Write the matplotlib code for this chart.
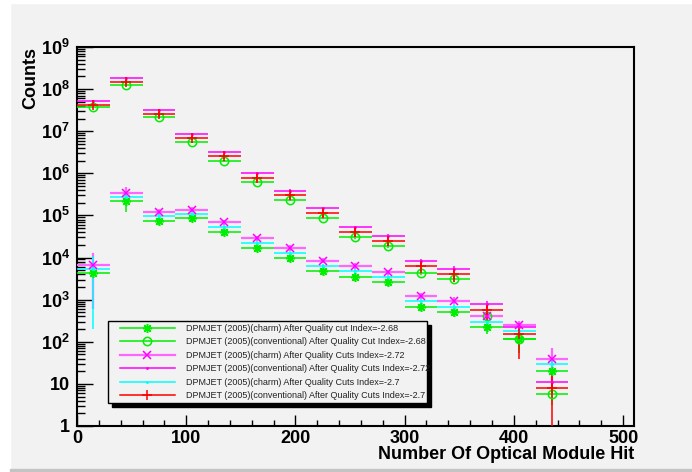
import math
import matplotlib
matplotlib.use("Agg")
import matplotlib.pyplot as plt
from matplotlib.lines import Line2D
from matplotlib.patches import Rectangle
from matplotlib.legend_handler import HandlerLine2D
from matplotlib.ticker import LogLocator, FuncFormatter, MultipleLocator, NullFormatter

plt.rcParams["font.family"] = ["Liberation Sans", "DejaVu Sans"]
plt.rcParams["mathtext.fontset"] = "custom"
plt.rcParams["mathtext.bf"] = "Liberation Sans:bold"
plt.rcParams["mathtext.rm"] = "Liberation Sans"

# ── Data ─────────────────────────────────────────────────────────────────────
bin_centers = [15, 45, 75, 105, 135, 165, 195, 225, 255, 285, 315, 345, 375, 405, 435]
bin_half = [15] * 15

charm_green = [4.2e3, 2.2e5, 7.5e4, 8.6e4, 4.0e4, 1.66e4, 9.6e3, 4.7e3, 3.5e3, 2.6e3,
               6.8e2, 5.0e2, 2.2e2, 1.17e2, 20.6]
charm_green_err = [1.5e3, 1.0e5, 1.5e4, 1.6e4, 7e3, 3e3, 1.8e3, 9e2, 7e2, 5e2,
                   1.5e2, 1.2e2, 7e1, 5e1, 7]

conv_green = [3.7e7, 1.26e8, 2.2e7, 5.6e6, 2.0e6, 6.2e5, 2.3e5, 8.9e4, 3.0e4, 1.9e4,
              4.4e3, 3.1e3, 4.2e2, 1.15e2, 5.6]
conv_green_err = [2e6, 5e6, 1e6, 3e5, 1e5, 4e4, 1.5e4, 6e3, 2.5e3, 1.8e3,
                  5e2, 4e2, 7e1, 6e1, 2.5]

charm_mag = [6.6e3, 3.4e5, 1.2e5, 1.38e5, 6.9e4, 2.9e4, 1.7e4, 8.5e3, 6.3e3, 4.5e3,
             1.24e3, 9.5e2, 4.2e2, 2.5e2, 40]
charm_mag_err = [6e3, 1.4e5, 2e4, 2e4, 1e4, 4e3, 2.5e3, 1.2e3, 1e3, 7e2,
                 2.2e2, 1.8e2, 9e1, 6e1, 30]

conv_mag = [5.25e7, 1.81e8, 3.25e7, 8.8e6, 3.17e6, 1.0e6, 3.9e5, 1.5e5, 5.2e4, 3.3e4,
            8.1e3, 5.4e3, 7.9e2, 2.2e2, 11]
conv_mag_err = [3e6, 1e7, 2e6, 5e5, 2e5, 7e4, 3e4, 1.2e4, 5e3, 3.5e3,
                1.2e3, 9e2, 1.5e2, 6e1, 4]

charm_cyan = [5.4e3, 2.7e5, 9.6e4, 1.1e5, 5.2e4, 2.2e4, 1.27e4, 6.4e3, 4.7e3, 3.5e3,
              9.2e2, 6.8e2, 2.95e2, 1.8e2, 29]
charm_cyan_err = [5.2e3, 8e4, 1.2e4, 1.3e4, 6e3, 2.5e3, 1.5e3, 8e2, 6e2, 4.5e2,
                  1.4e2, 1.1e2, 5e1, 3.5e1, 8]

conv_red = [4.3e7, 1.5e8, 2.6e7, 7.0e6, 2.55e6, 7.8e5, 3.0e5, 1.17e5, 4.0e4, 2.5e4,
            6.2e3, 4.1e3, 5.6e2, 1.5e2, 8.1]
conv_red_err = [4e6, 1.5e7, 3e6, 8e5, 3e5, 1.2e5, 5e4, 2.5e4, 1e4, 6e3,
                2e3, 1.4e3, 2.5e2, 1.1e2, 9]

labels = [
    "DPMJET (2005)(charm) After Quality cut Index=-2.68",
    "DPMJET (2005)(conventional) After Quality Cut Index=-2.68",
    "DPMJET (2005)(charm) After Quality Cuts Index=-2.72",
    "DPMJET (2005)(conventional) After Quality Cuts Index=-2.72",
    "DPMJET (2005)(charm) After Quality Cuts Index=-2.7",
    "DPMJET (2005)(conventional) After Quality Cuts Index=-2.7",
]

# ── Styles ───────────────────────────────────────────────────────────────────
GREEN = "#00ee00"
MAG = "#ff00ff"
MAG_L = "#ff66ff"
CYAN = "#00ffff"
RED = "#ff0000"
BG = "#f2f2f2"

series = [
    # values, errors, color, marker, ms, mfc, lw
    (charm_green, charm_green_err, GREEN, (8, 2, 0), 6.5, GREEN, 1.1),
    (conv_green, conv_green_err, GREEN, "o", 6, "none", 1.1),
    (charm_mag, charm_mag_err, MAG_L, "x", 6, MAG, 1.6),
    (conv_mag, conv_mag_err, MAG, ".", 2, MAG, 1.1),
    (charm_cyan, charm_cyan_err, CYAN, ".", 2, CYAN, 1.1),
    (conv_red, conv_red_err, RED, "+", 7, RED, 1.1),
]

fig = plt.figure(figsize=(6.92, 4.72), dpi=100, facecolor=BG)
# canvas bevel (ROOT look)
fig.patches.append(Rectangle((0, 0), 10 / 692, 1, transform=fig.transFigure,
                             color="white", zorder=0))
fig.patches.append(Rectangle((0, 1 - 3 / 472), 1, 3 / 472, transform=fig.transFigure,
                             color="white", zorder=0))
fig.patches.append(Rectangle((10 / 692, 0), 1, 3 / 472, transform=fig.transFigure,
                             color="#c4c4c4", zorder=0))

ax = fig.add_axes([77 / 692, 46 / 472, 557 / 692, 379 / 472])
ax.set_facecolor(BG)
ax.set_yscale("log")

handles = []
for vals, errs, col, mk, ms, mfc, lw in series:
    mec = MAG if mk == "x" else col
    ax.errorbar(bin_centers, vals, xerr=bin_half, yerr=errs, fmt="none",
                ecolor=col, elinewidth=lw, capsize=0, zorder=3)
    ax.plot(bin_centers, vals, linestyle="none", marker=mk, ms=ms, mfc=mfc,
            mec=mec, mew=1.1, zorder=4)
    handles.append(Line2D([], [], color=col, lw=lw, marker=mk, ms=ms,
                          mfc=mfc, mec=mec, mew=1.1))

ax.set_xlim(0, 510)
ax.set_ylim(1, 1e9)

# ── Axes / ticks ─────────────────────────────────────────────────────────────
for sp in ax.spines.values():
    sp.set_linewidth(1.5)
    sp.set_color("black")

ax.xaxis.set_major_locator(MultipleLocator(100))
ax.xaxis.set_minor_locator(MultipleLocator(20))
ax.yaxis.set_major_locator(LogLocator(base=10, numticks=20))
ax.yaxis.set_minor_locator(LogLocator(base=10, subs=range(2, 10), numticks=20))
ax.yaxis.set_minor_formatter(NullFormatter())


def ylab(v, pos):
    if v <= 1.01:
        return "1"
    if v <= 10.1:
        return "10"
    return r"$\mathbf{10^{%d}}$" % round(math.log10(v))


ax.yaxis.set_major_formatter(FuncFormatter(ylab))

ax.tick_params(axis="both", which="both", direction="in", top=False, right=False,
               color="black")
ax.tick_params(axis="y", which="major", length=11.5, width=1, pad=5)
ax.tick_params(axis="y", which="minor", length=5.8, width=1)
ax.tick_params(axis="x", which="major", length=8, width=1, pad=3)
ax.tick_params(axis="x", which="minor", length=4, width=1)
for lab in ax.get_xticklabels() + ax.get_yticklabels():
    lab.set_fontweight("bold")
    lab.set_fontsize(13)

ax.set_xlabel("Number Of Optical Module Hit", fontsize=13, fontweight="bold",
              ha="right")
ax.xaxis.set_label_coords(1.0, -0.052)
ax.set_ylabel("Counts", fontsize=13, fontweight="bold", ha="right")
ax.yaxis.set_label_coords(-0.068, 1.0)

# ── Legend ───────────────────────────────────────────────────────────────────
leg = ax.legend(handles, labels, loc="upper left", mode="expand",
                bbox_to_anchor=(0.0557, 0.0607, 0.573, 0.216), borderaxespad=0,
                fontsize=6.5, frameon=True, fancybox=False, edgecolor="black",
                facecolor=BG, framealpha=1, handlelength=7.1, handletextpad=1.2,
                labelspacing=0.5, borderpad=0.3,
                handler_map={Line2D: HandlerLine2D(xpad=1.0)},
                shadow={"color": "black", "alpha": 1, "ox": 3, "oy": -3})
leg.get_frame().set_linewidth(1.0)
for t in leg.get_texts():
    t.set_color("#222222")

plt.savefig("out.png", dpi=100, facecolor=fig.get_facecolor())
